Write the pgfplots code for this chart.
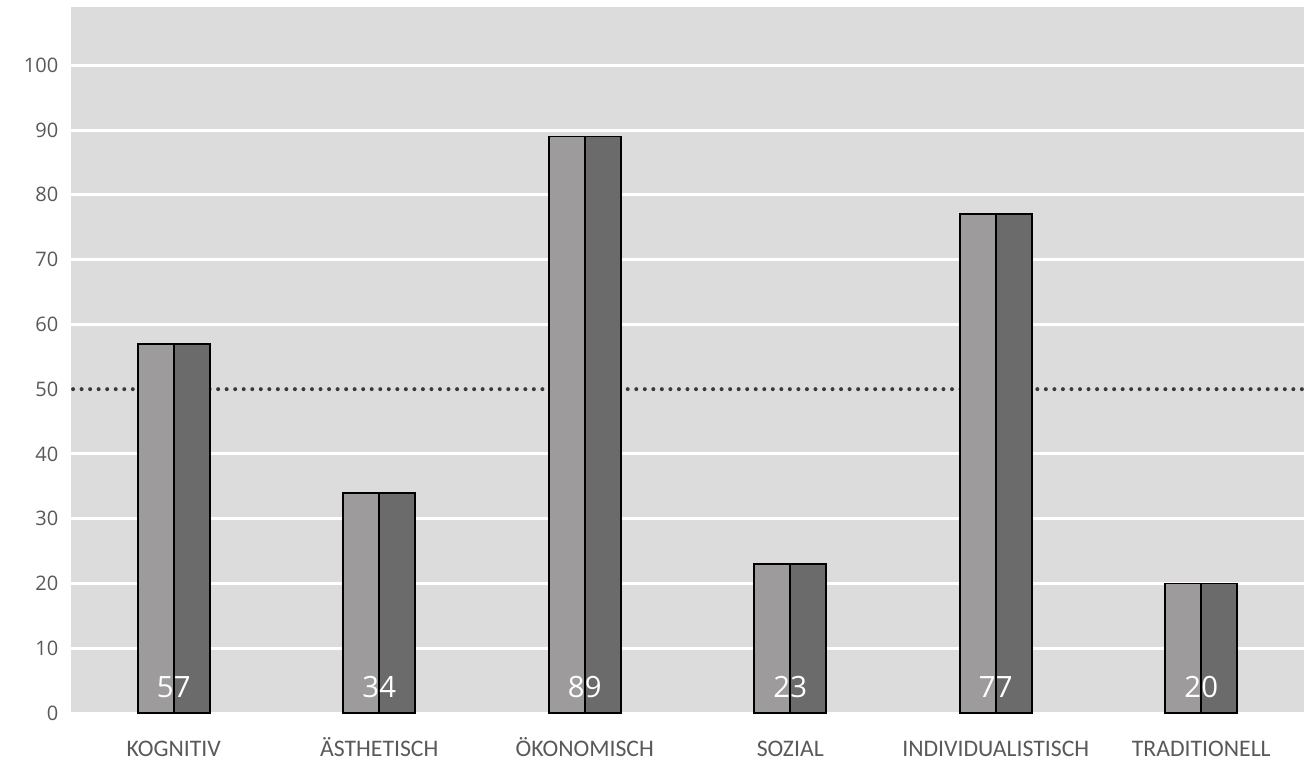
\documentclass[border=0pt]{standalone}
\usepackage{pgfplots}
\pgfplotsset{compat=1.18}
\usepackage{fontspec}
\setmainfont{Carlito}
\newfontfamily\numfont{Open Sans}
\definecolor{bg}{HTML}{DCDCDC}
\definecolor{lightbar}{HTML}{9D9B9B}
\definecolor{darkbar}{HTML}{6B6B6B}
\definecolor{txt}{HTML}{595959}
\definecolor{dots}{HTML}{3A3A3A}
\begin{document}
\begin{tikzpicture}
\begin{axis}[
  scale only axis,
  width=924.75pt, height=529.5pt,
  xmin=-0.5, xmax=5.5,
  ymin=0, ymax=109,
  axis background/.style={fill=bg},
  axis line style={draw=none},
  tick style={draw=none},
  xtick={0,1,2,3,4,5},
  xticklabels={KOGNITIV,ÄSTHETISCH,ÖKONOMISCH,SOZIAL,INDIVIDUALISTISCH,TRADITIONELL},
  ytick={0,10,...,100},
  ymajorgrids,
  grid style={white, line width=2.2pt},
  /pgf/number format/assume math mode=true,
  yticklabel style={font=\numfont\fontsize{15pt}{18pt}\selectfont, text=txt, xshift=-6pt},
  xticklabel style={font=\fontsize{17.8pt}{20pt}\selectfont, text=txt, anchor=north, inner sep=0pt, text height=12.5pt, text depth=0pt, yshift=-20pt},
  clip=false,
]
\addplot[bg, line width=3.2pt] coordinates {(-0.5,50) (5.5,50)};
\addplot[dots, line width=3pt, line cap=round, dash pattern=on 0pt off 6.4pt] coordinates {(-0.49,50) (5.5,50)};
\addplot[ybar, bar width=0.175, bar shift=-0.0875, fill=lightbar, draw=black, line width=1.4pt]
  coordinates {(0,57) (1,34) (2,89) (3,23) (4,77) (5,20)};
\addplot[ybar, bar width=0.175, bar shift=0.0875, fill=darkbar, draw=black, line width=1.4pt]
  coordinates {(0,57) (1,34) (2,89) (3,23) (4,77) (5,20)};
\addplot[draw=none, mark=none, point meta=explicit symbolic,
  nodes near coords,
  nodes near coords style={anchor=center, text=white, font=\numfont\fontsize{22pt}{26pt}\selectfont}]
  coordinates {(0,4)[57] (1,4)[34] (2,4)[89] (3,4)[23] (4,4)[77] (5,4)[20]};
\coordinate (bl) at (rel axis cs:0,0);
\coordinate (tr) at (rel axis cs:1,1);
\end{axis}
\pgfresetboundingbox
\path (bl) ++(-53.25pt,-36.75pt) coordinate (BL);
\path (tr) ++(0,5.25pt) coordinate (TR);
\path (BL) rectangle (TR);
\end{tikzpicture}
\end{document}
